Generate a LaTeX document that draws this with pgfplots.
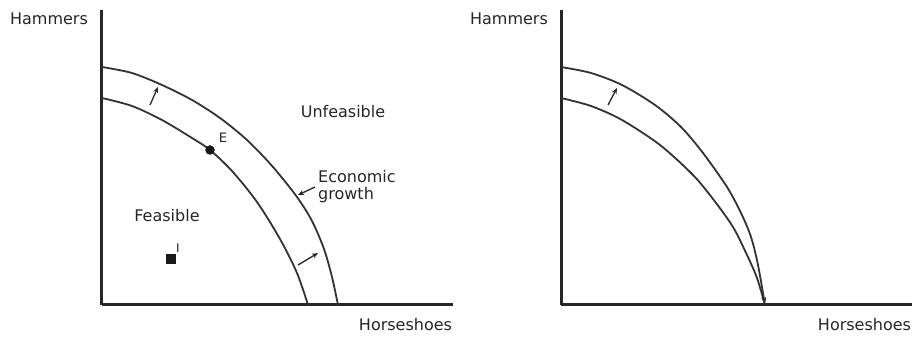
\documentclass[border=0pt]{standalone}
\usepackage{fontspec}
\setmainfont{DejaVu Sans}
\usepackage{pgfplots}
\pgfplotsset{compat=1.18}
\usetikzlibrary{arrows.meta}

% frontier curves (units: pixels from the origin)
\pgfplotstableread{
x y
0 207
30 199
60 185
90 167
108 155
130 134
155 103
178 66
195 32
206 0
}\leftinner
\pgfplotstableread{
x y
0 238
30 232
60 220
90 205
118 187
145 165
171 138
195 108
210 84
222 56
230 28
236 0
}\leftouter
\pgfplotstableread{
x y
0 207
30 199
61 185
99 160
132 130
152 106
172 78
186 50
196 27
204 0
}\rightinner
\pgfplotstableread{
x y
0 238
30 232
61 220
94 200
120 178
142 152
166 118
180 92
190 68
197 40
204 0
}\rightouter

\pgfplotsset{
  ppf/.style={
    anchor=south west, scale only axis,
    width=351pt, height=295pt,
    xmin=0, xmax=351, ymin=0, ymax=295,
    axis x line=bottom, axis y line=left,
    axis line style={-, line width=3pt, black!85},
    ticks=none, clip=false,
  },
  curve/.style={smooth, no markers, line width=1.8pt, black!80},
}

\begin{document}
\begin{tikzpicture}[font=\fontsize{16}{17}\selectfont, text=black!85,
  arr/.style={-{Stealth[length=6pt,width=5pt]}, line width=1.3pt, black!85}]
\useasboundingbox (0,0) rectangle (913pt,337pt);

\begin{axis}[ppf, at={(102pt,32pt)}]
\addplot[curve] table {\leftinner};
\addplot[curve] table {\leftouter};
\addplot[only marks, mark=*, mark size=4.5pt, black!90] coordinates {(108,155)};
\addplot[only marks, mark=square*, mark size=4.5pt, black!90] coordinates {(69,46)};
\node at (axis cs:-53,286) {Hammers};
\node at (axis cs:303.5,-20) {Horseshoes};
\node at (axis cs:241,193) {Unfeasible};
\node at (axis cs:65,89) {Feasible};
\node[anchor=west, align=left, inner sep=0pt] at (axis cs:216,118) {Economic\\growth};
\node[font=\fontsize{13}{14}\selectfont] at (axis cs:121,167) {E};
\node[font=\fontsize{12}{13}\selectfont] at (axis cs:76,57) {I};
\draw[arr] (axis cs:48,200) -- (axis cs:56,218);
\draw[arr] (axis cs:196,40) -- (axis cs:216,52);
\draw[arr] (axis cs:213,118) -- (axis cs:196,110);
\end{axis}

\begin{axis}[ppf, at={(561pt,32pt)}]
\addplot[curve] table {\rightinner};
\addplot[curve, -{Stealth[length=8pt,width=5pt]}] table {\rightouter};
\node at (axis cs:-52,286) {Hammers};
\node at (axis cs:303.5,-20) {Horseshoes};
\draw[arr] (axis cs:47,200) -- (axis cs:56,217);
\end{axis}
\end{tikzpicture}
\end{document}
